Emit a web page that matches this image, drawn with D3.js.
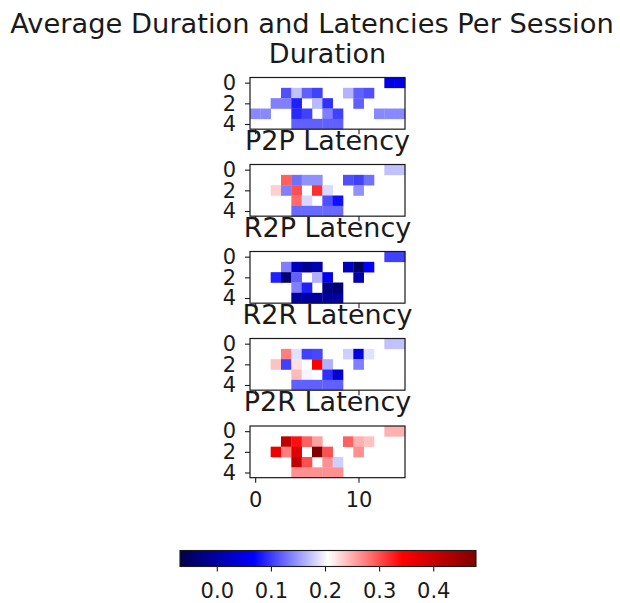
<!DOCTYPE html>
<html>
<head>
<meta charset="utf-8">
<script src="https://cdn.jsdelivr.net/npm/d3@7"></script>
<style>
  body { margin: 0; background: #fff; }
  svg { display: block; }
  text { font-family: "DejaVu Sans", sans-serif; fill: #1a1a1a; }
  .axis path { display: none; }
  .axis line { stroke: #1a1a1a; stroke-width: 1.1; }
  .axis text { font-size: 21px; }
</style>
</head>
<body>
<div id="root"></div>
<script>
const width = 620;
const height = 603;

const N = null;

// 5 rows (sessions) x 15 columns, null = no value
const duration = [
    [N, N, N, N, N, N, N, N, N, N, N, N, N, 0.05, 0.05],
    [N, N, N, 0.111, 0.172, 0.12, 0.103, N, N, 0.165, 0.12, 0.111, N, N, N],
    [N, N, 0.137, 0.137, 0.086, N, 0.168, 0.094, N, N, 0.12, N, N, N, N],
    [0.142, 0.142, N, N, 0.09, 0.103, N, 0.137, 0.103, N, N, N, 0.142, 0.142, 0.142],
    [N, N, N, N, 0.12, 0.12, 0.12, 0.12, 0.12, N, N, N, N, N, N],
];

const p2p = [
    [N, N, N, N, N, N, N, N, N, N, N, N, N, 0.172, 0.172],
    [N, N, N, 0.291, 0.129, 0.146, 0.146, N, N, 0.111, 0.103, 0.129, N, N, N],
    [N, N, 0.231, 0.137, 0.30, N, 0.317, 0.185, N, N, 0.146, N, N, N, N],
    [N, N, N, N, 0.285, 0.185, N, 0.111, 0.077, N, N, N, N, N, N],
    [N, N, N, N, 0.125, 0.125, 0.125, 0.125, 0.125, N, N, N, N, N, N],
];

const r2p = [
    [N, N, N, N, N, N, N, N, N, N, N, N, N, 0.103, 0.103],
    [N, N, N, 0.137, 0.021, -0.016, 0.008, N, N, 0.021, -0.055, 0.069, N, N, N],
    [N, N, 0.086, -0.041, 0.12, N, 0.163, 0.06, N, N, 0.008, N, N, N, N],
    [N, N, N, N, 0.137, 0.086, N, -0.029, -0.041, N, N, N, N, N, N],
    [N, N, N, N, -0.004, -0.004, -0.004, -0.004, -0.004, N, N, N, N, N, N],
];

const r2r = [
    [N, N, N, N, N, N, N, N, N, N, N, N, N, 0.172, 0.172],
    [N, N, N, 0.274, 0.189, 0.103, 0.107, N, N, 0.18, 0.045, 0.189, N, N, N],
    [N, N, 0.239, 0.103, 0.222, N, 0.342, 0.163, N, N, 0.137, N, N, N, N],
    [N, N, N, N, 0.242, 0.2, N, 0.094, 0.033, N, N, N, N, N, N],
    [N, N, N, N, 0.12, 0.12, 0.12, 0.12, 0.12, N, N, N, N, N, N],
];

const p2r = [
    [N, N, N, N, N, N, N, N, N, N, N, N, N, 0.248, 0.248],
    [N, N, N, 0.41, 0.334, 0.291, 0.256, N, N, 0.291, 0.248, 0.239, N, N, N],
    [N, N, 0.36, 0.274, 0.376, N, 0.479, 0.30, N, N, 0.265, N, N, N, N],
    [N, N, N, N, 0.41, 0.30, N, 0.265, 0.18, N, N, N, N, N, N],
    [N, N, N, N, 0.265, 0.265, 0.265, 0.265, 0.265, N, N, N, N, N, N],
];

const panelTitles = ["Duration", "P2P Latency", "R2P Latency", "R2R Latency", "P2R Latency"];
const panelData = [duration, p2p, r2p, r2r, p2r];

const yTicks = [0, 2, 4];
const xTicks = [0, 10];
const cbTicks = [0.0, 0.1, 0.2, 0.3, 0.4];
const vmin = -0.068;
const vmax = 0.479;

// seismic colormap
const color = d3.scaleLinear()
    .domain(d3.range(5).map(i => vmin + i / 4 * (vmax - vmin)))
    .range(["rgb(0,0,77)", "rgb(0,0,255)", "rgb(255,255,255)", "rgb(255,0,0)", "rgb(128,0,0)"])
    .interpolate(d3.interpolateRgb)
    .clamp(true);

const svg = d3.select("#root")
    .append("svg")
    .attr("width", width)
    .attr("height", height);

svg.append("text")
    .attr("x", 312)
    .attr("y", 33)
    .attr("text-anchor", "middle")
    .style("font-size", "27.3px")
    .text("Average Duration and Latencies Per Session");

const left = 250;
const pw = 155;
const ph = 155 * 5 / 15;
const tops = [77.5, 164.5, 251.5, 338.5, 426];

const x = d3.scaleLinear().domain([-0.5, 14.5]).range([left, left + pw]);

panelData.forEach((grid, i) => {
    const top = tops[i];
    const y = d3.scaleLinear().domain([-0.5, 4.5]).range([top, top + ph]);
    const g = svg.append("g");

    const cells = [];
    grid.forEach((row, r) => row.forEach((v, c) => {
        if (v !== null) cells.push({ r, c, v });
    }));

    g.selectAll("rect.cell")
        .data(cells)
        .join("rect")
        .attr("class", "cell")
        .attr("x", d => x(d.c - 0.5))
        .attr("y", d => y(d.r - 0.5))
        .attr("width", x(1) - x(0) + 0.3)
        .attr("height", y(1) - y(0) + 0.3)
        .attr("fill", d => color(d.v));

    g.append("rect")
        .attr("x", left)
        .attr("y", top)
        .attr("width", pw)
        .attr("height", ph)
        .attr("fill", "none")
        .attr("stroke", "#1a1a1a")
        .attr("stroke-width", 1.2);

    g.append("g")
        .attr("class", "axis")
        .attr("transform", `translate(${left},0)`)
        .call(d3.axisLeft(y).tickValues(yTicks).tickSize(5).tickPadding(9).tickFormat(d3.format("d")));

    const xa = g.append("g")
        .attr("class", "axis")
        .attr("transform", `translate(0,${top + ph})`)
        .call(d3.axisBottom(x).tickValues(xTicks).tickSize(5).tickPadding(9).tickFormat(d3.format("d")));
    if (i < panelData.length - 1) xa.selectAll("text").remove();

    svg.append("text")
        .attr("x", left + pw / 2)
        .attr("y", top - 15)
        .attr("text-anchor", "middle")
        .style("font-size", "27px")
        .text(panelTitles[i]);
});

// colorbar
const cbX = 180, cbW = 296, cbY = 550.5, cbH = 16;
const cb = d3.scaleLinear().domain([vmin, vmax]).range([cbX, cbX + cbW]);
const steps = d3.range(0, cbW, 1);

svg.append("g")
    .attr("shape-rendering", "crispEdges")
    .selectAll("rect")
    .data(steps)
    .join("rect")
    .attr("x", d => cbX + d)
    .attr("y", cbY)
    .attr("width", 1)
    .attr("height", cbH)
    .attr("fill", d => color(cb.invert(cbX + d + 0.5)));

svg.append("rect")
    .attr("x", cbX)
    .attr("y", cbY)
    .attr("width", cbW)
    .attr("height", cbH)
    .attr("fill", "none")
    .attr("stroke", "#1a1a1a")
    .attr("stroke-width", 1.1);

svg.append("g")
    .attr("class", "axis")
    .attr("transform", `translate(0,${cbY + cbH})`)
    .call(d3.axisBottom(cb).tickValues(cbTicks).tickSize(5).tickPadding(12).tickFormat(d3.format(".1f")));
</script>
</body>
</html>
